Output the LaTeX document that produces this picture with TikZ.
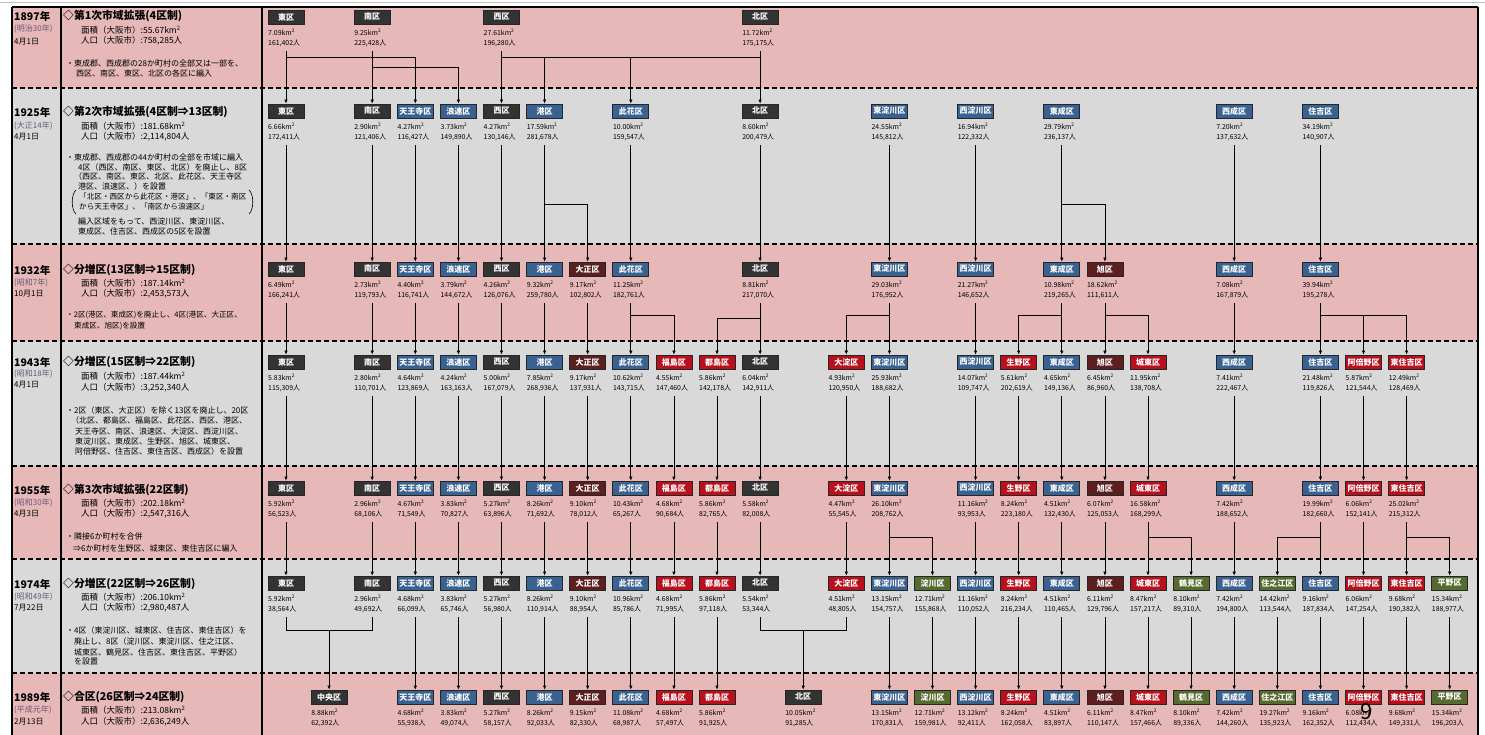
\documentclass[tikz,border=0pt]{standalone}
\usepackage{fontspec}
\setmainfont{Noto Sans CJK JP}
\usetikzlibrary{arrows.meta}
\definecolor{pinkbg}{HTML}{E6B8B7}
\definecolor{graybg}{HTML}{D9D9D9}
\definecolor{wk}{HTML}{333333}
\definecolor{wb}{HTML}{3A6291}
\definecolor{wm}{HTML}{5C1E1E}
\definecolor{wr}{HTML}{B8101C}
\definecolor{wg}{HTML}{556B2F}
\definecolor{eragray}{HTML}{6A5A78}
\tikzset{
 ward/.style={draw=black!85, line width=0.7pt, minimum width=36pt, minimum height=14pt, inner sep=0pt, text=white, font=\fontsize{8}{8}\selectfont\bfseries},
 info/.style={anchor=west, inner sep=0pt, font=\fontsize{6.9}{7}\selectfont},
 conn/.style={draw=black, line width=0.7pt, -{Latex[length=4pt,width=3.5pt]}},
 link/.style={draw=black, line width=0.7pt},
 sep/.style={draw=black, line width=1.6pt, dash pattern=on 5pt off 3pt},
 yr/.style={anchor=west, inner sep=0pt, font=\fontsize{10.5}{11}\selectfont\bfseries},
 era/.style={anchor=west, inner sep=0pt, text=eragray, font=\fontsize{8}{8}\selectfont},
 dt/.style={anchor=west, inner sep=0pt, font=\fontsize{8}{8}\selectfont},
 ttl/.style={anchor=west, inner sep=0pt, font=\fontsize{10.8}{11}\selectfont\bfseries},
 stat/.style={anchor=west, inner sep=0pt, font=\fontsize{8.5}{9}\selectfont},
 note/.style={anchor=west, inner sep=0pt, font=\fontsize{8}{8}\selectfont},
}
\newcommand\Ward[7]{%
  \node[ward,fill=#4] (r#1c#2) at ({286+43.1*#2},{#3+7}) {#5};
  \node[info] (r#1c#2a) at ({286+43.1*#2-18},{#3+22}) {#6km\textsuperscript{2}};
  \node[info] (r#1c#2p) at ({286+43.1*#2-18},{#3+33}) {#7人};
  \coordinate (r#1c#2s) at ({286+43.1*#2},{#3+41});
}
\newcommand\Down[3]{\draw[conn] (r#1c#3s) -- (r#2c#3.north);}
\begin{document}
\begin{tikzpicture}[x=1pt,y=-1pt]
\useasboundingbox (0,0) rectangle (1485,735);
\fill[white] (0,0) rectangle (1485,735);
% row backgrounds
\fill[pinkbg] (12,7) rectangle (1478,88);
\fill[graybg] (12,88) rectangle (1478,244);
\fill[pinkbg] (12,244) rectangle (1478,341);
\fill[graybg] (12,341) rectangle (1478,466);
\fill[pinkbg] (12,466) rectangle (1478,559);
\fill[graybg] (12,559) rectangle (1478,673);
\fill[pinkbg] (12,673) rectangle (1478,735);
\draw[black!25, line width=0.5pt] (0,2) -- (1485,2);
\draw[line width=1.2pt] (12,7) -- (1478,7);
\foreach \yy in {88,244,341,466,559,673} \draw[sep] (12,\yy) -- (1478,\yy);
\draw[line width=1.6pt] (12,7) -- (12,735);
\draw[line width=1.4pt] (61,7) -- (61,735);
\draw[line width=1.2pt] (262,7) -- (262,735);
\draw[line width=1.2pt] (1478,7) -- (1478,735);

% ===== left panels =====
% 1897
\node[yr] (y1) at (14,16) {1897年};
\node[era] (e1) at (14,29) {(明治30年)};
\node[dt] (d1) at (14,42) {4月1日};
\node[ttl] (t1) at (63,16) {◇第1次市域拡張(4区制)};
\node[stat] (a1) at (81,30) {面積（大阪市）:55.67km\textsuperscript{2}};
\node[stat] (p1) at (81,41) {人口（大阪市）:758,285人};
\node[note] at (66,63) {・東成郡、西成郡の28か町村の全部又は一部を、};
\node[note] at (76,73) {西区、南区、東区、北区の各区に編入};
% 1925
\node[yr] (y2) at (14,112) {1925年};
\node[era] (e2) at (14,126) {(大正14年)};
\node[dt] (d2) at (14,137) {4月1日};
\node[ttl] (t2) at (63,112) {◇第2次市域拡張(4区制⇒13区制)};
\node[stat] (a2) at (81,126) {面積（大阪市）:181.68km\textsuperscript{2}};
\node[stat] (p2) at (81,137) {人口（大阪市）:2,114,804人};
\node[note] at (66,157) {・東成郡、西成郡の44か町村の全部を市域に編入};
\node[note] at (78,167) {4区（西区、南区、東区、北区）を廃止し、8区};
\node[note] at (74,176) {（西区、南区、東区、北区、此花区、天王寺区};
\node[note] at (78,186) {港区、浪速区、）を設置};
\node[note, font=\fontsize{7.6}{8}\selectfont] at (79,197) {「北区・西区から此花区・港区」、「東区・南区};
\node[note, font=\fontsize{7.6}{8}\selectfont] at (79,207) {から天王寺区」、「南区から浪速区」};
\node[note] at (78,221) {編入区域をもって、西淀川区、東淀川区、};
\node[note] at (78,231) {東成区、住吉区、西成区の5区を設置};
\draw[line width=0.6pt] (76,190) .. controls (71,194) and (71,210) .. (76,214);
\draw[line width=0.6pt] (249,190) .. controls (254,194) and (254,210) .. (249,214);
% 1932
\node[yr] (y3) at (14,270) {1932年};
\node[era] (e3) at (14,283) {(昭和7年)};
\node[dt] (d3) at (14,294) {10月1日};
\node[ttl] (t3) at (63,270) {◇分増区(13区制⇒15区制)};
\node[stat] (a3) at (81,283) {面積（大阪市）:187.14km\textsuperscript{2}};
\node[stat] (p3) at (81,294) {人口（大阪市）:2,453,573人};
\node[note, font=\fontsize{7.6}{8}\selectfont] at (66,315) {・2区(港区、東成区)を廃止し、4区(港区、大正区、};
\node[note, font=\fontsize{7.6}{8}\selectfont] at (74,326) {東成区、旭区)を設置};
% 1943
\node[yr] (y4) at (14,362) {1943年};
\node[era] (e4) at (14,374) {(昭和18年)};
\node[dt] (d4) at (14,385) {4月1日};
\node[ttl] (t4) at (63,362) {◇分増区(15区制⇒22区制)};
\node[stat] (a4) at (81,376) {面積（大阪市）:187.44km\textsuperscript{2}};
\node[stat] (p4) at (81,388) {人口（大阪市）:3,252,340人};
\node[note] at (66,410) {・2区（東区、大正区）を除く13区を廃止し、20区};
\node[note] at (71,420) {（北区、都島区、福島区、此花区、西区、港区、};
\node[note] at (75,431) {天王寺区、南区、浪速区、大淀区、西淀川区、};
\node[note] at (75,441) {東淀川区、東成区、生野区、旭区、城東区、};
\node[note] at (75,451) {阿倍野区、住吉区、東住吉区、西成区）を設置};
% 1955
\node[yr] (y5) at (14,490) {1955年};
\node[era] (e5) at (14,503) {(昭和30年)};
\node[dt] (d5) at (14,514) {4月3日};
\node[ttl] (t5) at (63,490) {◇第3次市域拡張(22区制)};
\node[stat] (a5) at (81,503) {面積（大阪市）:202.18km\textsuperscript{2}};
\node[stat] (p5) at (81,514) {人口（大阪市）:2,547,316人};
\node[note] at (66,536) {・隣接6か町村を合併};
\node[note] at (73,548) {⇒6か町村を生野区、城東区、東住吉区に編入};
% 1974
\node[yr] (y6) at (14,584) {1974年};
\node[era] (e6) at (14,597) {(昭和49年)};
\node[dt] (d6) at (14,608) {7月22日};
\node[ttl] (t6) at (63,584) {◇分増区(22区制⇒26区制)};
\node[stat] (a6) at (81,597) {面積（大阪市）:206.10km\textsuperscript{2}};
\node[stat] (p6) at (81,608) {人口（大阪市）:2,980,487人};
\node[note] at (66,630) {・4区（東淀川区、城東区、住吉区、東住吉区）を};
\node[note] at (74,641) {廃止し、8区（淀川区、東淀川区、住之江区、};
\node[note] at (74,652) {城東区、鶴見区、住吉区、東住吉区、平野区）};
\node[note] at (74,662) {を設置};
% 1989
\node[yr] (y7) at (14,697) {1989年};
\node[era] (e7) at (14,710) {(平成元年)};
\node[dt] (d7) at (14,722) {2月13日};
\node[ttl] (t7) at (63,697) {◇合区(26区制⇒24区制)};
\node[stat] (a7) at (81,710) {面積（大阪市）:213.08km\textsuperscript{2}};
\node[stat] (p7) at (81,722) {人口（大阪市）:2,636,249人};

% ===== wards =====
% 1897
\Ward{1}{0}{10}{wk}{東区}{7.09}{161,402}
\Ward{1}{2}{10}{wk}{南区}{9.25}{225,428}
\Ward{1}{5}{10}{wk}{西区}{27.61}{196,280}
\Ward{1}{11}{10}{wk}{北区}{11.72}{175,175}
% 1925
\Ward{2}{0}{104}{wk}{東区}{6.66}{172,411}
\Ward{2}{2}{104}{wk}{南区}{2.90}{121,406}
\Ward{2}{3}{104}{wb}{天王寺区}{4.27}{116,427}
\Ward{2}{4}{104}{wb}{浪速区}{3.73}{149,890}
\Ward{2}{5}{104}{wk}{西区}{4.27}{130,146}
\Ward{2}{6}{104}{wb}{港区}{17.59}{281,678}
\Ward{2}{8}{104}{wb}{此花区}{10.00}{159,547}
\Ward{2}{11}{104}{wk}{北区}{8.60}{200,479}
\Ward{2}{14}{104}{wb}{東淀川区}{24.55}{145,812}
\Ward{2}{16}{104}{wb}{西淀川区}{16.94}{122,332}
\Ward{2}{18}{104}{wb}{東成区}{29.79}{236,137}
\Ward{2}{22}{104}{wb}{西成区}{7.20}{137,632}
\Ward{2}{24}{104}{wb}{住吉区}{34.19}{140,907}
% 1932
\Ward{3}{0}{262}{wk}{東区}{6.49}{166,241}
\Ward{3}{2}{262}{wk}{南区}{2.73}{119,793}
\Ward{3}{3}{262}{wb}{天王寺区}{4.40}{116,741}
\Ward{3}{4}{262}{wb}{浪速区}{3.79}{144,672}
\Ward{3}{5}{262}{wk}{西区}{4.26}{126,076}
\Ward{3}{6}{262}{wb}{港区}{9.32}{259,780}
\Ward{3}{7}{262}{wm}{大正区}{9.17}{102,802}
\Ward{3}{8}{262}{wb}{此花区}{11.25}{182,761}
\Ward{3}{11}{262}{wk}{北区}{8.81}{217,070}
\Ward{3}{14}{262}{wb}{東淀川区}{29.03}{176,952}
\Ward{3}{16}{262}{wb}{西淀川区}{21.27}{146,652}
\Ward{3}{18}{262}{wb}{東成区}{10.98}{219,265}
\Ward{3}{19}{262}{wm}{旭区}{18.62}{111,611}
\Ward{3}{22}{262}{wb}{西成区}{7.08}{167,879}
\Ward{3}{24}{262}{wb}{住吉区}{39.94}{195,278}
% 1943
\Ward{4}{0}{355}{wk}{東区}{5.83}{115,309}
\Ward{4}{2}{355}{wk}{南区}{2.80}{110,701}
\Ward{4}{3}{355}{wb}{天王寺区}{4.64}{123,869}
\Ward{4}{4}{355}{wb}{浪速区}{4.24}{163,163}
\Ward{4}{5}{355}{wk}{西区}{5.00}{167,079}
\Ward{4}{6}{355}{wb}{港区}{7.85}{268,936}
\Ward{4}{7}{355}{wm}{大正区}{9.17}{137,931}
\Ward{4}{8}{355}{wb}{此花区}{10.62}{143,715}
\Ward{4}{9}{355}{wr}{福島区}{4.55}{147,460}
\Ward{4}{10}{355}{wr}{都島区}{5.86}{142,178}
\Ward{4}{11}{355}{wk}{北区}{6.04}{142,911}
\Ward{4}{13}{355}{wr}{大淀区}{4.93}{120,950}
\Ward{4}{14}{355}{wb}{東淀川区}{25.93}{188,682}
\Ward{4}{16}{355}{wb}{西淀川区}{14.07}{109,747}
\Ward{4}{17}{355}{wr}{生野区}{5.61}{202,619}
\Ward{4}{18}{355}{wb}{東成区}{4.65}{149,136}
\Ward{4}{19}{355}{wm}{旭区}{6.45}{86,960}
\Ward{4}{20}{355}{wr}{城東区}{11.95}{138,708}
\Ward{4}{22}{355}{wb}{西成区}{7.41}{222,467}
\Ward{4}{24}{355}{wb}{住吉区}{21.48}{119,826}
\Ward{4}{25}{355}{wr}{阿倍野区}{5.87}{121,544}
\Ward{4}{26}{355}{wr}{東住吉区}{12.49}{128,469}
% 1955
\Ward{5}{0}{481}{wk}{東区}{5.92}{56,523}
\Ward{5}{2}{481}{wk}{南区}{2.96}{68,106}
\Ward{5}{3}{481}{wb}{天王寺区}{4.67}{71,549}
\Ward{5}{4}{481}{wb}{浪速区}{3.83}{70,827}
\Ward{5}{5}{481}{wk}{西区}{5.27}{63,896}
\Ward{5}{6}{481}{wb}{港区}{8.26}{71,692}
\Ward{5}{7}{481}{wm}{大正区}{9.10}{78,012}
\Ward{5}{8}{481}{wb}{此花区}{10.43}{65,267}
\Ward{5}{9}{481}{wr}{福島区}{4.68}{90,684}
\Ward{5}{10}{481}{wr}{都島区}{5.86}{82,765}
\Ward{5}{11}{481}{wk}{北区}{5.58}{82,008}
\Ward{5}{13}{481}{wr}{大淀区}{4.47}{55,545}
\Ward{5}{14}{481}{wb}{東淀川区}{26.10}{208,762}
\Ward{5}{16}{481}{wb}{西淀川区}{11.16}{93,953}
\Ward{5}{17}{481}{wr}{生野区}{8.24}{223,180}
\Ward{5}{18}{481}{wb}{東成区}{4.51}{132,430}
\Ward{5}{19}{481}{wm}{旭区}{6.07}{125,053}
\Ward{5}{20}{481}{wr}{城東区}{16.58}{168,299}
\Ward{5}{22}{481}{wb}{西成区}{7.42}{188,652}
\Ward{5}{24}{481}{wb}{住吉区}{19.99}{182,660}
\Ward{5}{25}{481}{wr}{阿倍野区}{6.06}{152,141}
\Ward{5}{26}{481}{wr}{東住吉区}{25.02}{215,312}
% 1974
\Ward{6}{0}{576}{wk}{東区}{5.92}{38,564}
\Ward{6}{2}{576}{wk}{南区}{2.96}{49,692}
\Ward{6}{3}{576}{wb}{天王寺区}{4.68}{66,099}
\Ward{6}{4}{576}{wb}{浪速区}{3.83}{65,746}
\Ward{6}{5}{576}{wk}{西区}{5.27}{56,980}
\Ward{6}{6}{576}{wb}{港区}{8.26}{110,914}
\Ward{6}{7}{576}{wm}{大正区}{9.10}{88,954}
\Ward{6}{8}{576}{wb}{此花区}{10.96}{85,786}
\Ward{6}{9}{576}{wr}{福島区}{4.68}{71,995}
\Ward{6}{10}{576}{wr}{都島区}{5.86}{97,118}
\Ward{6}{11}{576}{wk}{北区}{5.54}{53,344}
\Ward{6}{13}{576}{wr}{大淀区}{4.51}{48,805}
\Ward{6}{14}{576}{wb}{東淀川区}{13.15}{154,757}
\Ward{6}{15}{576}{wg}{淀川区}{12.71}{155,868}
\Ward{6}{16}{576}{wb}{西淀川区}{11.16}{110,052}
\Ward{6}{17}{576}{wr}{生野区}{8.24}{216,234}
\Ward{6}{18}{576}{wb}{東成区}{4.51}{110,465}
\Ward{6}{19}{576}{wm}{旭区}{6.11}{129,796}
\Ward{6}{20}{576}{wr}{城東区}{8.47}{157,217}
\Ward{6}{21}{576}{wg}{鶴見区}{8.10}{89,310}
\Ward{6}{22}{576}{wb}{西成区}{7.42}{194,800}
\Ward{6}{23}{576}{wg}{住之江区}{14.42}{113,544}
\Ward{6}{24}{576}{wb}{住吉区}{9.16}{187,834}
\Ward{6}{25}{576}{wr}{阿倍野区}{6.06}{147,254}
\Ward{6}{26}{576}{wr}{東住吉区}{9.68}{190,382}
\Ward{6}{27}{576}{wg}{平野区}{15.34}{188,977}
% 1989
\Ward{7}{1}{690}{wk}{中央区}{8.88}{62,392}
\Ward{7}{3}{690}{wb}{天王寺区}{4.68}{55,938}
\Ward{7}{4}{690}{wb}{浪速区}{3.83}{49,074}
\Ward{7}{5}{690}{wk}{西区}{5.27}{58,157}
\Ward{7}{6}{690}{wb}{港区}{8.26}{92,033}
\Ward{7}{7}{690}{wm}{大正区}{9.15}{82,330}
\Ward{7}{8}{690}{wb}{此花区}{11.08}{68,987}
\Ward{7}{9}{690}{wr}{福島区}{4.68}{57,497}
\Ward{7}{10}{690}{wr}{都島区}{5.86}{91,925}
\Ward{7}{12}{690}{wk}{北区}{10.05}{91,285}
\Ward{7}{14}{690}{wb}{東淀川区}{13.15}{170,831}
\Ward{7}{15}{690}{wg}{淀川区}{12.71}{159,981}
\Ward{7}{16}{690}{wb}{西淀川区}{13.12}{92,411}
\Ward{7}{17}{690}{wr}{生野区}{8.24}{162,058}
\Ward{7}{18}{690}{wb}{東成区}{4.51}{83,897}
\Ward{7}{19}{690}{wm}{旭区}{6.11}{110,147}
\Ward{7}{20}{690}{wr}{城東区}{8.47}{157,466}
\Ward{7}{21}{690}{wg}{鶴見区}{8.10}{89,336}
\Ward{7}{22}{690}{wb}{西成区}{7.42}{144,260}
\Ward{7}{23}{690}{wg}{住之江区}{19.27}{135,923}
\Ward{7}{24}{690}{wb}{住吉区}{9.16}{162,352}
\Ward{7}{25}{690}{wr}{阿倍野区}{6.08}{112,434}
\Ward{7}{26}{690}{wr}{東住吉区}{9.68}{149,331}
\Ward{7}{27}{690}{wg}{平野区}{15.34}{196,203}

% ===== connectors =====
% 1897 -> 1925
\foreach \cc in {0,2,5,11} {\Down{1}{2}{\cc}}
\draw[conn] (r1c0s |- 0,57) -| (r2c3.north);
\draw[conn] (r1c2s |- 0,67) -| (r2c4.north);
\draw[link] (r1c5s |- 0,57) -- (r1c11s |- 0,57);
\draw[conn] (r2c6.north |- 0,57) -- (r2c6.north);
\draw[conn] (r2c8.north |- 0,57) -- (r2c8.north);
% 1925 -> 1932
\foreach \cc in {0,2,3,4,5,6,8,11,14,16,18,22,24} {\Down{2}{3}{\cc}}
\draw[conn] (r2c6s |- 0,204) -| (r3c7.north);
\draw[conn] (r2c18s |- 0,204) -| (r3c19.north);
% 1932 -> 1943
\foreach \cc in {0,2,3,4,5,6,7,8,11,14,16,18,19,22,24} {\Down{3}{4}{\cc}}
\draw[conn] (r3c8s |- 0,315) -| (r4c9.north);
\draw[conn] (r3c11s |- 0,318) -| (r4c10.north);
\draw[conn] (r3c14s |- 0,315) -| (r4c13.north);
\draw[conn] (r3c18s |- 0,315) -| (r4c17.north);
\draw[conn] (r3c19s |- 0,315) -| (r4c20.north);
\draw[conn] (r3c24s |- 0,315) -| (r4c26.north);
\draw[conn] (r4c25.north |- 0,315) -- (r4c25.north);
% 1943 -> 1955
\foreach \cc in {0,2,3,4,5,6,7,8,9,10,11,13,14,16,17,18,19,20,22,24,25,26} {\Down{4}{5}{\cc}}
% 1955 -> 1974
\foreach \cc in {0,2,3,4,5,6,7,8,9,10,11,13,14,16,17,18,19,20,22,24,25,26} {\Down{5}{6}{\cc}}
\draw[conn] (r5c14s |- 0,537) -| (r6c15.north);
\draw[conn] (r5c20s |- 0,537) -| (r6c21.north);
\draw[conn] (r5c24s |- 0,537) -| (r6c23.north);
\draw[conn] (r5c26s |- 0,537) -| (r6c27.north);
% 1974 -> 1989
\foreach \cc in {3,4,5,6,7,8,9,10,14,15,16,17,18,19,20,21,22,23,24,25,26,27} {\Down{6}{7}{\cc}}
\draw[link] (r6c0s) |- (r6c2s |- 0,630) -- (r6c2s);
\draw[conn] (r7c1.north |- 0,630) -- (r7c1.north);
\draw[link] (r6c11s) |- (r6c13s |- 0,630) -- (r6c13s);
\draw[conn] (r7c12.north |- 0,630) -- (r7c12.north);

% page number (printed over the chart in the reference)
\node[inner sep=0pt, font=\fontsize{22}{22}\selectfont] (pg) at (1367,712) {9};
\end{tikzpicture}
\end{document}
